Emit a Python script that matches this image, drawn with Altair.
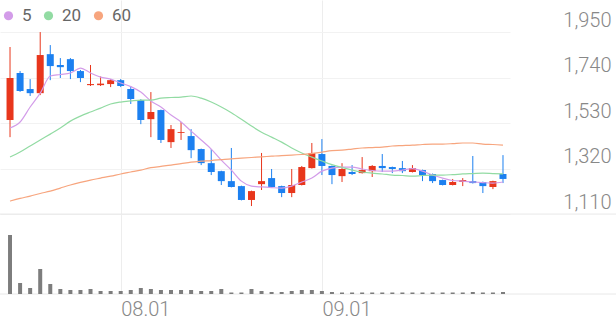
import altair as alt
import pandas as pd

# ---- data ----
idx = list(range(50))
opens = [1544, 1761, 1687, 1668, 1848, 1798, 1825, 1770, 1705, 1705,
         1710, 1728, 1687, 1636, 1548, 1590, 1442, 1484, 1470, 1410,
         1345, 1308, 1262, 1239, 1175, 1248, 1276, 1239, 1207, 1244,
         1322, 1387, 1332, 1285, 1304, 1299, 1308, 1332, 1327, 1322,
         1304, 1313, 1295, 1267, 1244, 1258, 1262, 1258, 1235, 1295]
highs = [1881, 1770, 1733, 1950, 1890, 1830, 1830, 1775, 1798, 1745,
         1733, 1733, 1701, 1640, 1673, 1592, 1521, 1535, 1502, 1412,
         1410, 1310, 1415, 1241, 1218, 1392, 1318, 1241, 1318, 1332,
         1438, 1456, 1334, 1345, 1336, 1373, 1336, 1387, 1329, 1355,
         1336, 1315, 1297, 1269, 1272, 1276, 1378, 1260, 1264, 1382]
lows = [1465, 1674, 1655, 1659, 1728, 1738, 1733, 1719, 1701, 1701,
        1696, 1696, 1618, 1525, 1465, 1438, 1415, 1452, 1368, 1336,
        1290, 1244, 1233, 1173, 1147, 1221, 1233, 1188, 1188, 1242,
        1320, 1290, 1248, 1258, 1290, 1297, 1281, 1304, 1299, 1299,
        1302, 1262, 1253, 1242, 1242, 1239, 1251, 1207, 1225, 1253]
closes = [1738, 1678, 1668, 1844, 1793, 1788, 1770, 1738, 1710, 1712,
          1728, 1701, 1641, 1544, 1581, 1452, 1502, 1488, 1405, 1345,
          1304, 1262, 1235, 1175, 1216, 1262, 1235, 1207, 1244, 1327,
          1392, 1332, 1290, 1318, 1295, 1313, 1332, 1322, 1318, 1308,
          1322, 1290, 1262, 1244, 1258, 1267, 1253, 1239, 1262, 1272]
volumes = [590000, 110000, 60000, 250000, 100000, 50000, 40000, 40000, 50000, 30000,
           30000, 30000, 40000, 60000, 50000, 40000, 40000, 40000, 40000, 30000,
           30000, 50000, 15000, 15000, 50000, 30000, 20000, 20000, 30000, 40000,
           40000, 30000, 20000, 15000, 15000, 15000, 15000, 15000, 15000, 15000,
           15000, 15000, 15000, 15000, 15000, 15000, 20000, 15000, 15000, 20000]
ma5 = [1507, 1535, 1604, 1668, 1747, 1754, 1761, 1784, 1761, 1742,
       1733, 1715, 1698, 1673, 1632, 1604, 1567, 1535, 1493, 1452,
       1410, 1359, 1313, 1262, 1239, 1235, 1232, 1230, 1239, 1258,
       1276, 1308, 1322, 1327, 1327, 1318, 1311, 1308, 1308, 1313,
       1320, 1308, 1290, 1276, 1265, 1262, 1258, 1255, 1253, 1258]
ma20 = [1373, 1396, 1424, 1452, 1479, 1507, 1539, 1562, 1581, 1599,
        1618, 1627, 1632, 1636, 1636, 1645, 1648, 1650, 1655, 1645,
        1627, 1604, 1578, 1548, 1516, 1488, 1465, 1442, 1415, 1392,
        1373, 1355, 1338, 1325, 1313, 1304, 1299, 1295, 1290, 1288,
        1285, 1288, 1290, 1290, 1292, 1295, 1297, 1299, 1297, 1295]
ma60 = [1170, 1182, 1193, 1205, 1216, 1230, 1244, 1256, 1267, 1276,
        1285, 1295, 1304, 1313, 1324, 1330, 1336, 1343, 1350, 1354,
        1357, 1361, 1365, 1368, 1371, 1374, 1377, 1380, 1382, 1385,
        1389, 1396, 1403, 1405, 1410, 1415, 1417, 1419, 1424, 1426,
        1428, 1431, 1433, 1433, 1435, 1438, 1438, 1433, 1431, 1428]
ma_names = ["5", "20", "60"]
tick_idx = [11, 31]
tick_labels = ["08.01", "09.01"]
price_ticks = [1110, 1320, 1530, 1740, 1950]

# ---- tables ----
df = pd.DataFrame({"i": idx, "o": opens, "h": highs, "l": lows, "c": closes, "v": volumes})
ma_df = pd.concat([
    pd.DataFrame({"i": idx, "val": vals, "s": name})
    for name, vals in zip(ma_names, [ma5, ma20, ma60])
])

UP = "#e8361c"
DOWN = "#1c80f0"
MA_COLORS = ["#d39ce9", "#92dba3", "#f7a57e"]
FONT = "Roboto"

label_expr = " : ".join(
    [f"datum.value == {v} ? '{t}'" for v, t in zip(tick_idx, tick_labels)] + ["''"]
)

xscale = alt.Scale(domain=[-0.5, 49.2], nice=False, zero=False)
x_enc = alt.X(
    "i:Q", scale=xscale, title=None,
    axis=alt.Axis(values=tick_idx, labelExpr=label_expr, grid=True, gridColor="#ededed",
                  domain=False, ticks=False, labelAlign="left", labelBaseline="top",
                  labelPadding=5, labelFontSize=20, labelFont=FONT, labelFontWeight=300,
                  labelColor="#888888"),
)

yscale = alt.Scale(domain=[741, 2098], nice=False, zero=False)
y_axis = alt.Axis(values=price_ticks, format=",.0f", orient="right", grid=True,
                  gridColor="#f2f2f2", domain=False, ticks=False, labelAlign="right",
                  labelBaseline="alphabetic", labelOffset=-6, labelPadding=101,
                  labelFontSize=20, labelFont=FONT, labelFontWeight=300,
                  labelColor="#888888", labelFlush=False, labelOverlap=False)

cond_color = alt.condition("datum.c >= datum.o", alt.value(UP), alt.value(DOWN))

legend = alt.Legend(
    orient="none", legendX=0, legendY=7, direction="horizontal",
    title=None, symbolType="circle", symbolSize=85, symbolStrokeWidth=0,
    symbolOpacity=1, labelFontSize=17, labelFont=FONT,
    labelColor="#666666", labelOffset=5, columnPadding=8, padding=0,
)
color_enc = alt.Color(
    "s:N", sort=ma_names,
    scale=alt.Scale(domain=ma_names, range=MA_COLORS),
    legend=legend,
)

base = alt.Chart(df)
wicks = base.mark_rule(strokeWidth=1).encode(
    x=x_enc,
    y=alt.Y("l:Q", scale=yscale, axis=y_axis, title=None),
    y2="h:Q",
    color=cond_color,
)
bodies = base.mark_bar(size=7).encode(
    x=x_enc,
    y=alt.Y("o:Q", scale=yscale, axis=y_axis, title=None),
    y2="c:Q",
    color=cond_color,
)
# invisible circles: only give the shared colour legend its filled dots
ma_dots = alt.Chart(ma_df).mark_circle(size=0).encode(
    x=x_enc,
    y=alt.Y("val:Q", scale=yscale, axis=y_axis, title=None),
    color=color_enc,
)
ma_lines = alt.Chart(ma_df).mark_line(strokeWidth=1.2, interpolate="monotone").encode(
    x=x_enc,
    y=alt.Y("val:Q", scale=yscale, axis=y_axis, title=None),
    color=color_enc,
    detail="s:N",
)
sep_price = alt.Chart(pd.DataFrame({"p": [price_ticks[0]]})).mark_rule(
    color="#e8e8e8", strokeWidth=1).encode(
    y=alt.Y("p:Q", scale=yscale, axis=y_axis, title=None),
    x=alt.value(0), x2=alt.value(616),
)
price = alt.layer(ma_dots, sep_price, wicks, bodies, ma_lines)

vscale = alt.Scale(domain=[0, 2940000], nice=False, zero=True)
vol_bars = base.mark_bar(size=4, color="#7d7d7d").encode(
    x=x_enc,
    y=alt.Y("v:Q", scale=vscale, axis=None, title=None),
)
vol_base = alt.Chart(pd.DataFrame({"z": [0]})).mark_rule(
    color="#e8e8e8", strokeWidth=1).encode(
    y=alt.Y("z:Q", scale=vscale, axis=None, title=None),
    x=alt.value(0), x2=alt.value(616),
)
volume = alt.layer(vol_base, vol_bars)

chart = alt.layer(price, volume).resolve_scale(y="independent").properties(
    width=510, height=294,
    autosize=alt.AutoSizeParams(type="none"),
    padding={"left": 0, "top": 0, "right": 106, "bottom": 27},
    background="white",
).configure_view(strokeWidth=0).configure_legend(
    labelFontSize=17, symbolSize=85, labelFont=FONT, labelColor="#666666"
)

chart.save("out.html", embed_options={"renderer": "svg", "actions": False})
